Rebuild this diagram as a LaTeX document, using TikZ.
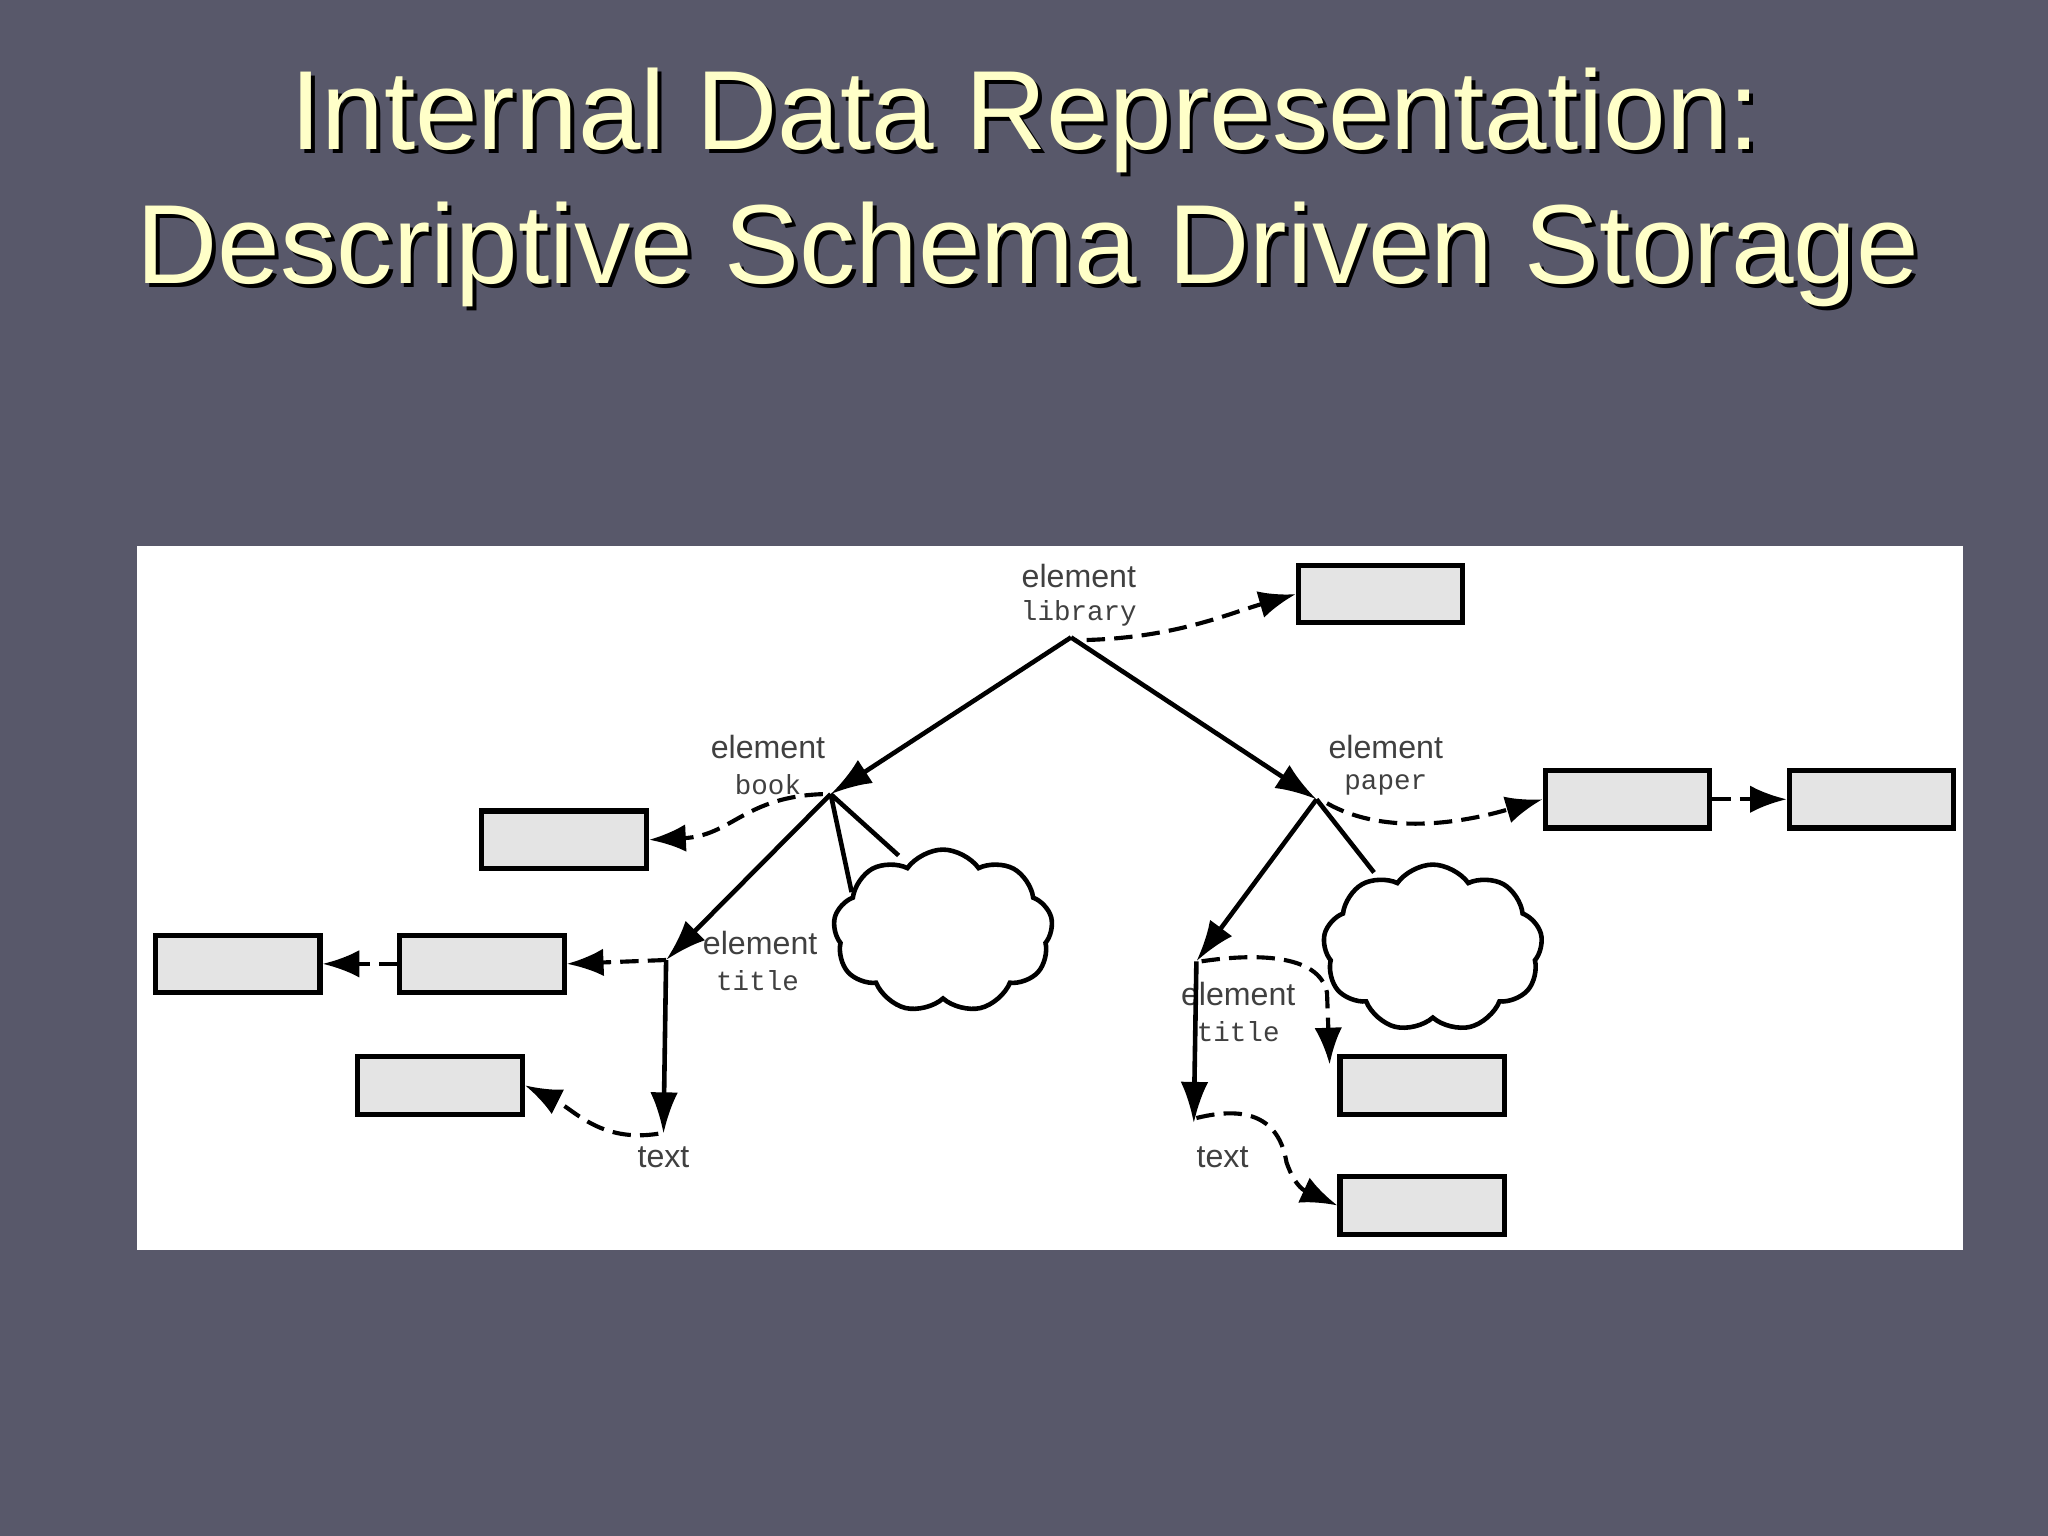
\documentclass[tikz,border=0pt]{standalone}
\usepackage{fontspec}
\setmainfont{Liberation Sans}
\setmonofont{Liberation Mono}
\usetikzlibrary{arrows.meta,shapes.symbols}
\definecolor{bg}{RGB}{88,88,106}
\definecolor{ttl}{RGB}{255,255,200}
\definecolor{boxfill}{RGB}{228,228,228}
\tikzset{
  ttext/.style={font=\fontsize{24.5}{25}\selectfont},
  lbl/.style={font=\fontsize{7}{7}\selectfont, text=black!75, inner sep=0},
  mlbl/.style={font=\ttfamily\fontsize{6}{6}\selectfont, text=black!75, inner sep=0},
  gbox/.style={draw, line width=1.1pt, fill=boxfill, anchor=north west, minimum width=1.26cm, minimum height=0.44cm, inner sep=0},
  solidarr/.style={line width=1pt, -{Latex[length=9pt,width=6pt]}},
  dasharr/.style={line width=0.9pt, dashed, dash pattern=on 4pt off 2pt, -{Latex[length=8pt,width=6pt]}},
  cl/.style={draw, line width=1pt, cloud, cloud puffs=9, cloud puff arc=110, fill=white}
}
\begin{document}
\begin{tikzpicture}[x=0.01cm,y=-0.01cm]
\fill[bg] (0,0) rectangle (1568,1176);
\useasboundingbox (0,0) rectangle (1568,1176);
% title
\foreach \d/\c in {3/black,0/ttl}{
  \node[ttext, text=\c] at (785+\d,92+\d) {Internal Data Representation:};
  \node[ttext, text=\c] at (787+\d,195+\d) {Descriptive Schema Driven Storage};
}
\fill[white] (105,418) rectangle (1503,957);
% points
\coordinate (L) at (820,488);
\coordinate (K) at (636,608);
\coordinate (P) at (1008,612);
\coordinate (T1) at (510,735);
\coordinate (X1) at (508,868);
\coordinate (T2) at (916,736);
\coordinate (X2) at (914,860);
% labels
\node[lbl] (lL1) at (826,441) {element};
\node[mlbl] (lL2) at (826,470) {library};
\node[lbl] (lK1) at (588,572) {element};
\node[mlbl] (lK2) at (588,601) {book};
\node[lbl] (lP1) at (1061,572) {element};
\node[mlbl] (lP2) at (1061,601) {paper};
\node[lbl] (lT11) at (582,722) {element};
\node[mlbl] (lT12) at (580,751) {title};
\node[lbl] (lT21) at (948,761) {element};
\node[mlbl] (lT22) at (948,790) {title};
\node[lbl] (lX1) at (508,886) {text};
\node[lbl] (lX2) at (936,886) {text};
% boxes
\node[gbox] (b1) at (992,431) {};
\node[gbox] (b2) at (367,619) {};
\node[gbox] (b3) at (1181,588) {};
\node[gbox] (b4) at (1368,588) {};
\node[gbox] (b5) at (304,714) {};
\node[gbox] (b6) at (117,714) {};
\node[gbox] (b7) at (272,807) {};
\node[gbox] (b8) at (1024,807) {};
\node[gbox] (b9) at (1024,899) {};
% clouds
\node[cl, minimum width=1.68cm, minimum height=1.25cm] (c1) at (722,713) {};
\node[cl, minimum width=1.68cm, minimum height=1.28cm] (c2) at (1097,726) {};
\draw[line width=1pt] (K) -- (652,683) (K) -- (688,655);
\draw[line width=1pt] (P) -- (1052,668);
% solid arrows
\draw[solidarr] (L) -- (K);
\draw[solidarr] (L) -- (P);
\draw[solidarr] (K) -- (T1);
\draw[solidarr] (P) -- (T2);
\draw[solidarr] (T1) -- (X1);
\draw[solidarr] (T2) -- (X2);
% dashed arrows
\draw[dasharr] (L) ++(12,2) .. controls (900,488) and (940,470) .. (b1.west);
\draw[dasharr] (K) ++(-6,0) .. controls (570,610) and (560,640) .. (b2.east);
\draw[dasharr] (P) ++(8,3) .. controls (1060,640) and (1120,630) .. (b3.west);
\draw[dasharr] (b3.east) -- (b4.west);
\draw[dasharr] (T1) -- (b5.east);
\draw[dasharr] (b5.west) -- (b6.east);
\draw[dasharr] (X1) ++(-4,0) .. controls (460,875) and (440,850) .. (b7.east);
\draw[dasharr] (T2) ++(4,0) .. controls (960,730) and (1010,730) .. (1016,760) -- (1018,815);
\draw[dasharr] (X2) ++(2,-4) .. controls (960,845) and (980,860) .. (985,890) .. controls (992,910) and (1000,912) .. (b9.west);
\end{tikzpicture}
\end{document}
